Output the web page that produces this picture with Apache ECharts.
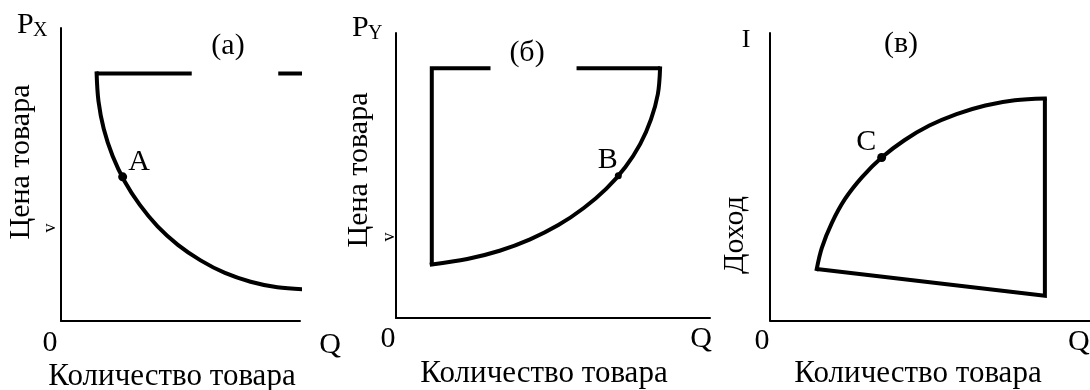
<!DOCTYPE html>
<html>
<head>
<meta charset="utf-8">
<script src="https://cdn.jsdelivr.net/npm/echarts@6/dist/echarts.min.js"></script>
<style>
html,body{margin:0;padding:0;background:#fff;}
#chart{width:1090px;height:390px;}
</style>
</head>
<body>
<div id="chart"></div>
<script>
// ---- data (axis units 0..100 in each panel) ----
// Panel (а): price of X vs quantity
const curveA = [[14.9,84.5],[15.7,74.9],[17.9,65.5],[21.6,56.3],[26.6,47.7],[32.9,39.7],[40.4,32.3],[48.9,26.0],[58.4,20.7],[68.6,16.4],[79.3,13.4],[90.5,11.5],[101.8,10.8]];
const topLeftA = [[54.7,84.5],[14.9,84.5]];
const topRightA = [[90.9,84.5],[101.8,84.5],[101.8,10.8]];
const pointA = [[25.8,49.2]];
// Panel (б): price of Y vs quantity
const curveB = [[11.4,18.8],[22.7,20.7],[33.0,23.6],[42.7,27.6],[51.7,32.6],[59.8,38.6],[67.0,45.4],[73.0,52.9],[77.8,61.1],[81.2,69.7],[83.4,78.6],[84.1,87.6]];
const leftB = [[30.1,87.6],[11.4,87.6],[11.4,18.8]];
const topRightB = [[57.5,87.6],[84.1,87.6]];
const pointB = [[70.8,49.9]];
// Panel (в): income vs quantity
const curveC = [[14.6,17.9],[16.2,25.3],[19.3,33.9],[23.4,42.2],[28.7,49.8],[34.9,56.7],[42.0,62.7],[49.8,67.8],[58.3,71.8],[67.3,74.8],[76.5,76.6],[85.9,77.2]];
const bodyC = [[85.9,77.2],[85.9,8.6],[14.6,17.9]];
const pointC = [[34.9,56.7]];
// texts
const panelTitles = ['(а)', '(б)', '(в)'];
const pointNames = ['A', 'B', 'C'];
const xAxisName = 'Количество товара';
const yAxisNames = ['Цена товара', 'Цена товара', 'Доход'];
const originLabel = '0';
const qLabel = 'Q';

const FONT = '"Liberation Serif", "Times New Roman", serif';
const chart = echarts.init(document.getElementById('chart'), null, {renderer: 'canvas'});

const grids = [
  {left: 61, top: 28, width: 239, height: 293},
  {left: 396, top: 33, width: 314, height: 285},
  {left: 770, top: 33, width: 320, height: 287.5}
];
function axis(i) {
  return {
    type: 'value', min: 0, max: 100, gridIndex: i,
    axisLine: {show: true, lineStyle: {color: '#000', width: 2}},
    axisTick: {show: false}, axisLabel: {show: false}, splitLine: {show: false}
  };
}
function line(i, data, smooth, cap) {
  return {
    type: 'line', xAxisIndex: i, yAxisIndex: i, data: data, smooth: smooth,
    showSymbol: false, clip: false, silent: true, animation: false,
    lineStyle: {color: '#000', width: 4, cap: cap || 'butt', join: 'miter'}
  };
}
function dot(i, data, name, size, pos, offset) {
  return {
    type: 'scatter', xAxisIndex: i, yAxisIndex: i, data: data, symbolSize: size,
    itemStyle: {color: '#000', opacity: 1}, clip: false, animation: false, z: 5,
    label: {show: true, formatter: name, position: pos, distance: 1, offset: offset,
      color: '#000', opacity: 1, fontFamily: FONT, fontSize: 30}
  };
}
function txt(x, y, text, size, align, rot) {
  return {
    type: 'text', x: x, y: y, rotation: rot || 0,
    style: {text: text, fill: '#000', font: size + 'px ' + FONT,
      textAlign: align || 'center', textVerticalAlign: 'middle'}
  };
}

const option = {
  animation: false,
  backgroundColor: '#fff',
  grid: grids,
  xAxis: [axis(0), axis(1), axis(2)],
  yAxis: [axis(0), axis(1), axis(2)],
  series: [
    line(0, curveA, 0.35, 'square'), line(0, topLeftA, false), line(0, topRightA, false),
    dot(0, pointA, pointNames[0], 9, 'right', [0, -15]),
    line(1, curveB, 0.35, 'square'), line(1, leftB, false), line(1, topRightB, false),
    dot(1, pointB, pointNames[1], 7, 'left', [4, -16]),
    line(2, curveC, 0.35, 'square'), line(2, bodyC, false),
    dot(2, pointC, pointNames[2], 9, 'left', [0, -15])
  ],
  graphic: [
    // panel а
    txt(17, 25, 'P', 30, 'left'), txt(33, 31, 'X', 20, 'left'),
    txt(228, 46, panelTitles[0], 30),
    txt(21, 162, yAxisNames[0], 30, 'center', Math.PI / 2),
    txt(50, 228, 'v', 18, 'center', Math.PI / 2),
    txt(50, 343, originLabel, 30), txt(330, 345, qLabel, 30),
    txt(172, 377, xAxisName, 31),
    // panel б
    txt(352, 28, 'P', 30, 'left'), txt(368, 34, 'Y', 20, 'left'),
    txt(527, 53, panelTitles[1], 30),
    txt(359, 170, yAxisNames[1], 30, 'center', Math.PI / 2),
    txt(389, 237, 'v', 18, 'center', Math.PI / 2),
    txt(388, 339, originLabel, 30), txt(701, 339, qLabel, 30),
    txt(544, 374, xAxisName, 31),
    // panel в
    txt(746, 40, 'I', 26),
    txt(901, 44, panelTitles[2], 30),
    txt(735, 235, yAxisNames[2], 30, 'center', Math.PI / 2),
    txt(762, 341, originLabel, 30), txt(1068, 342, qLabel, 30, 'left'),
    txt(918, 374, xAxisName, 31)
  ]
};
chart.setOption(option);
</script>
</body>
</html>
